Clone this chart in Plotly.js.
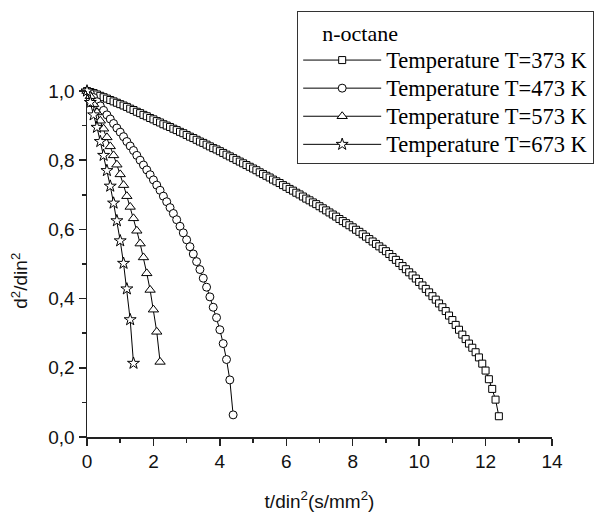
<!DOCTYPE html>
<html>
<head>
<meta charset="utf-8">
<script src="https://cdn.plot.ly/plotly-3.0.1.min.js"></script>
<style>
html,body{margin:0;padding:0;background:#ffffff;}
#chart{width:606px;height:515px;}
</style>
</head>
<body>
<div id="chart"></div>
<script>
// ---- data ----
const legendTitle = 'n-octane';
const seriesNames = ['Temperature T=373 K', 'Temperature T=473 K', 'Temperature T=573 K', 'Temperature T=673 K'];
const xTitle = 't/din<sup>2</sup>(s/mm<sup>2</sup>)';
const yTitle = 'd<sup>2</sup>/din<sup>2</sup>';

const t373 = [0.0,0.1,0.2,0.3,0.4,0.5,0.6,0.7,0.8,0.9,
  1.0,1.1,1.2,1.3,1.4,1.5,1.6,1.7,1.8,1.9,
  2.0,2.1,2.2,2.3,2.4,2.5,2.6,2.7,2.8,2.9,
  3.0,3.1,3.2,3.3,3.4,3.5,3.6,3.7,3.8,3.9,
  4.0,4.1,4.2,4.3,4.4,4.5,4.6,4.7,4.8,4.9,
  5.0,5.1,5.2,5.3,5.4,5.5,5.6,5.7,5.8,5.9,
  6.0,6.1,6.2,6.3,6.4,6.5,6.6,6.7,6.8,6.9,
  7.0,7.1,7.2,7.3,7.4,7.5,7.6,7.7,7.8,7.9,
  8.0,8.1,8.2,8.3,8.4,8.5,8.6,8.7,8.8,8.9,
  9.0,9.1,9.2,9.3,9.4,9.5,9.6,9.7,9.8,9.9,
  10.0,10.1,10.2,10.3,10.4,10.5,10.6,10.7,10.8,10.9,
  11.0,11.1,11.2,11.3,11.4,11.5,11.6,11.7,11.8,11.9,
  12.0,12.1,12.2,12.3,12.4];
const d373 = [1.000,0.997,0.994,0.990,0.986,0.982,0.978,0.974,0.970,0.966,
  0.962,0.958,0.954,0.949,0.945,0.940,0.936,0.931,0.927,0.922,
  0.918,0.913,0.909,0.904,0.900,0.896,0.891,0.887,0.882,0.878,
  0.873,0.868,0.864,0.859,0.854,0.850,0.845,0.840,0.835,0.831,
  0.826,0.821,0.816,0.811,0.806,0.801,0.796,0.791,0.786,0.781,
  0.776,0.771,0.765,0.760,0.755,0.750,0.744,0.739,0.734,0.728,
  0.723,0.717,0.712,0.706,0.701,0.695,0.689,0.684,0.678,0.673,
  0.667,0.661,0.655,0.649,0.643,0.637,0.630,0.624,0.618,0.612,
  0.606,0.599,0.593,0.586,0.579,0.572,0.565,0.558,0.551,0.544,
  0.537,0.529,0.520,0.512,0.503,0.494,0.485,0.476,0.467,0.458,
  0.448,0.438,0.428,0.418,0.407,0.397,0.386,0.375,0.364,0.351,
  0.338,0.324,0.310,0.296,0.283,0.270,0.258,0.245,0.230,0.212,
  0.192,0.167,0.139,0.108,0.060];

const t473 = [0.0,0.1,0.2,0.3,0.4,0.5,0.6,0.7,0.8,0.9,
  1.0,1.1,1.2,1.3,1.4,1.5,1.6,1.7,1.8,1.9,
  2.0,2.1,2.2,2.3,2.4,2.5,2.6,2.7,2.8,2.9,
  3.0,3.1,3.2,3.3,3.4,3.5,3.6,3.7,3.8,3.9,
  4.0,4.1,4.2,4.3,4.4];
const d473 = [1.000,0.993,0.981,0.969,0.957,0.944,0.931,0.919,0.906,0.893,
  0.881,0.868,0.854,0.841,0.828,0.814,0.800,0.786,0.772,0.758,
  0.743,0.728,0.713,0.696,0.680,0.663,0.646,0.628,0.609,0.590,
  0.570,0.550,0.529,0.507,0.484,0.459,0.433,0.405,0.375,0.345,
  0.310,0.270,0.224,0.165,0.064];

const t573 = [0.0,0.1,0.2,0.3,0.4,0.5,0.6,0.7,0.8,0.9,
  1.0,1.1,1.2,1.3,1.4,1.5,1.6,1.7,1.8,1.9,
  2.0,2.1,2.2];
const d573 = [1.000,0.985,0.962,0.938,0.914,0.891,0.866,0.840,0.814,0.787,
  0.759,0.728,0.696,0.665,0.632,0.596,0.559,0.519,0.473,0.425,
  0.368,0.304,0.217];

const t673 = [0.0,0.1,0.2,0.3,0.4,0.5,0.6,0.7,0.8,0.9,
  1.0,1.1,1.2,1.3,1.4];
const d673 = [1.000,0.967,0.931,0.895,0.854,0.814,0.770,0.725,0.676,0.625,
  0.567,0.502,0.428,0.339,0.213];

const xTicks = [0,2,4,6,8,10,12,14];
const yTicks = [0.0,0.2,0.4,0.6,0.8,1.0];

// ---- chart ----
const serif = 'Liberation Serif, Times New Roman, serif';
const sans = 'Liberation Sans, Arial, sans-serif';

function mk(x, y, name, symbol, size) {
  return {
    type: 'scatter', mode: 'lines+markers', x: x, y: y,
    name: '<span style="font-size:22.5px">' + name + '</span>',
    cliponaxis: false,
    line: {color: '#000', width: 1},
    marker: {symbol: symbol, size: size, color: '#ffffff', line: {color: '#000', width: 1}}
  };
}

const traces = [
  mk(t373, d373, seriesNames[0], 'square', 7),
  mk(t473, d473, seriesNames[1], 'circle', 8),
  mk(t573, d573, seriesNames[2], 'triangle-up', 9),
  mk(t673, d673, seriesNames[3], 'star', 9)
];

const axisCommon = {
  showline: true, linecolor: '#222', linewidth: 1.5,
  showgrid: false, zeroline: false,
  ticks: 'outside', ticklen: 7, tickwidth: 1.5, tickcolor: '#222',
  tickfont: {family: sans, size: 19, color: '#111'}
};

const layout = {
  width: 606, height: 515,
  margin: {l: 87, r: 52, t: 89, b: 78, pad: 0},
  paper_bgcolor: '#ffffff', plot_bgcolor: '#ffffff',
  separators: ',.',
  showlegend: true,
  xaxis: Object.assign({}, axisCommon, {
    range: [0, 14], tickmode: 'array', tickvals: xTicks,
    minor: {dtick: 1, tick0: 0, ticks: 'outside', ticklen: 4, tickwidth: 1.5, tickcolor: '#222', showgrid: false},
    title: {text: xTitle, font: {family: sans, size: 19, color: '#111'}, standoff: 23}
  }),
  yaxis: Object.assign({}, axisCommon, {
    range: [0, 1.0], tickmode: 'array', tickvals: yTicks, tickformat: '.1f',
    minor: {dtick: 0.1, tick0: 0, ticks: 'outside', ticklen: 4, tickwidth: 1.5, tickcolor: '#222', showgrid: false}
  }),
  annotations: [{
    text: yTitle, xref: 'paper', yref: 'paper', x: -0.146, y: 0.452,
    xanchor: 'center', yanchor: 'middle', textangle: -90, showarrow: false,
    font: {family: sans, size: 19, color: '#111'}
  }],
  legend: {
    x: 0.452, y: 1.23, xanchor: 'left', yanchor: 'top',
    bgcolor: '#ffffff', bordercolor: '#333', borderwidth: 1,
    font: {family: serif, size: 19.3, color: '#000'},
    title: {text: '\u00a0\u00a0\u00a0\u00a0' + legendTitle, side: 'top', font: {family: serif, size: 22, color: '#000'}},
    itemwidth: 78, tracegroupgap: 0
  }
};

Plotly.newPlot('chart', traces, layout, {staticPlot: true, displayModeBar: false});
</script>
</body>
</html>
